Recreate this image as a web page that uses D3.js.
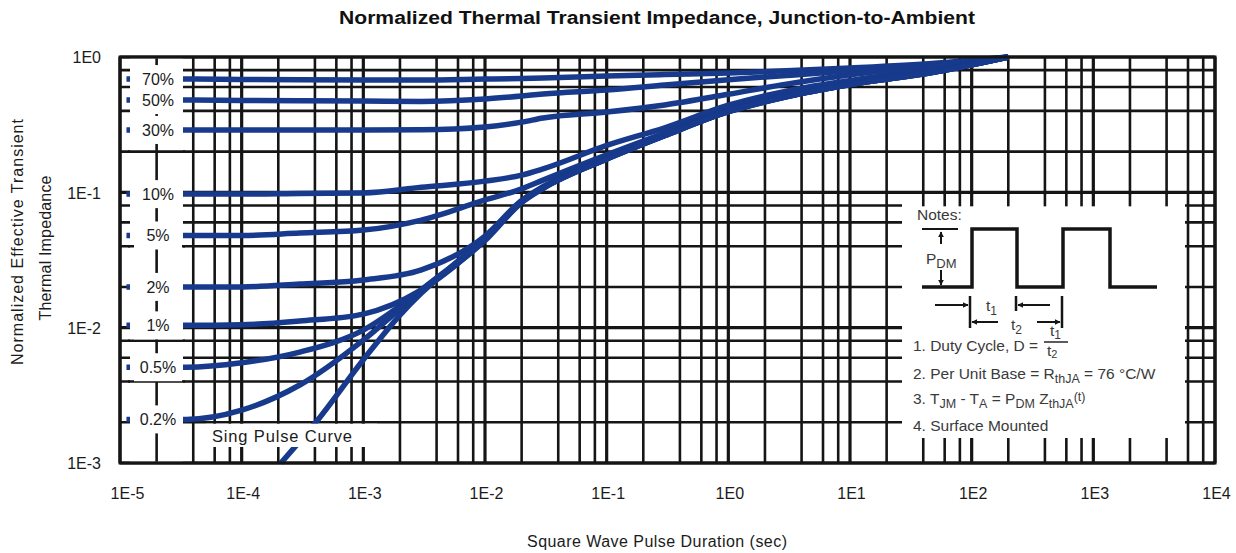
<!DOCTYPE html>
<html>
<head>
<meta charset="utf-8">
<script src="https://cdn.jsdelivr.net/npm/d3@7"></script>
<style>
  body { margin: 0; background: #fff; }
  text { font-family: "Liberation Sans", Arial, sans-serif; }
</style>
</head>
<body>
<svg id="chart" width="1236" height="553"></svg>
<script>
// duty-cycle curves, all sampled on the same pulse durations (sec)
const dutyLabels = ["70%", "50%", "30%", "10%", "5%", "2%", "1%", "0.5%", "0.2%"];
const pulseTimes = [1.13e-5, 3.5e-5, 1e-4, 3e-4, 1e-3, 3e-3, 1e-2, 2e-2, 3e-2, 0.1, 0.3, 1, 3, 10, 50, 200];
const z70 = [0.687, 0.687, 0.683, 0.678, 0.676, 0.676, 0.687, 0.693, 0.7, 0.724, 0.742, 0.762, 0.79, 0.83, 0.9, 1];
const z50 = [0.481, 0.481, 0.478, 0.475, 0.473, 0.47, 0.49, 0.515, 0.533, 0.57, 0.62, 0.68, 0.73, 0.79, 0.88, 1];
const z30 = [0.289, 0.289, 0.289, 0.289, 0.289, 0.29, 0.304, 0.33, 0.354, 0.392, 0.442, 0.53, 0.63, 0.74, 0.86, 1];
const z10 = [0.097, 0.097, 0.097, 0.098, 0.099, 0.109, 0.121, 0.134, 0.149, 0.222, 0.3, 0.44, 0.56, 0.67, 0.82, 1];
const z5 = [0.048, 0.048, 0.048, 0.05, 0.0526, 0.0624, 0.088, 0.106, 0.123, 0.189, 0.274, 0.41, 0.53, 0.65, 0.79, 1];
const z2 = [0.02, 0.02, 0.02, 0.021, 0.0225, 0.0267, 0.0475, 0.087, 0.11, 0.18, 0.268, 0.402, 0.517, 0.635, 0.78, 1];
const z1 = [0.0104, 0.0104, 0.0105, 0.0112, 0.0126, 0.019, 0.045, 0.085, 0.108, 0.177, 0.263, 0.396, 0.51, 0.627, 0.776, 1];
const z05 = [0.0051, 0.0051, 0.0055, 0.0066, 0.0096, 0.019, 0.044, 0.084, 0.107, 0.176, 0.262, 0.394, 0.508, 0.625, 0.775, 1];
const z02 = [0.0021, 0.0021, 0.00246, 0.00377, 0.0081, 0.019, 0.045, 0.085, 0.108, 0.177, 0.264, 0.397, 0.51, 0.627, 0.776, 1];

// single pulse curve
const singleTimes = [2.1e-4, 4.2e-4, 1e-3, 2e-3, 3e-3, 5e-3, 1e-2, 2e-2, 3e-2, 0.1, 0.3, 1, 3, 10, 50, 200];
const zSingle = [0.001, 0.00207, 0.0058, 0.0124, 0.018, 0.027, 0.046, 0.085, 0.107, 0.176, 0.262, 0.394, 0.508, 0.625, 0.775, 1];

const xDecades = [1e-5, 1e-4, 1e-3, 1e-2, 1e-1, 1, 10, 100, 1000, 10000];
const yDecades = [1e-3, 1e-2, 1e-1, 1];
const gridMultiples = [1, 2, 4, 6, 8];

const svg = d3.select("#chart");
const ink = "#151515";
const blue = "#173a8c";

const x = d3.scaleLog().domain([1e-5, 1e4]).range([120, 1215]);
const y = d3.scaleLog().domain([1e-3, 1]).range([463, 57]);

const mantissa = v => Math.round(v / Math.pow(10, Math.floor(Math.log10(v) + 1e-9)));
const xGrid = x.ticks().filter(v => gridMultiples.includes(mantissa(v)));
const yGrid = y.ticks().filter(v => gridMultiples.includes(mantissa(v)));
const gridWidth = d => (mantissa(d) === 1 ? 3.2 : 2.6);

// grid
const grid = svg.append("g");
grid.selectAll("line.v")
  .data(xGrid)
  .join("line")
  .attr("x1", d => x(d)).attr("x2", d => x(d))
  .attr("y1", 57).attr("y2", 463)
  .attr("stroke", ink)
  .attr("stroke-width", gridWidth);
grid.selectAll("line.h")
  .data(yGrid)
  .join("line")
  .attr("x1", 120).attr("x2", 1215)
  .attr("y1", d => y(d)).attr("y2", d => y(d))
  .attr("stroke", ink)
  .attr("stroke-width", gridWidth);

// curves
const line = d3.line()
  .x(d => x(d[0]))
  .y(d => y(d[1]))
  .curve(d3.curveMonotoneX);

const dutySeries = [z70, z50, z30, z10, z5, z2, z1, z05, z02].map((z, i) => ({
  label: dutyLabels[i],
  points: pulseTimes.map((t, j) => [t, z[j]])
}));
const singleSeries = singleTimes.map((t, j) => [t, zSingle[j]]);

svg.append("g")
  .selectAll("path")
  .data(dutySeries.map(d => d.points).concat([singleSeries]))
  .join("path")
  .attr("d", line)
  .attr("fill", "none")
  .attr("stroke", blue)
  .attr("stroke-width", 5.5);

// white label areas
const masks = svg.append("g");
const white = (x0, y0, x1, y1) => masks.append("rect")
  .attr("x", x0).attr("y", y0)
  .attr("width", x1 - x0).attr("height", y1 - y0)
  .attr("fill", "#fff");
const vStub = (v, y0, y1) => masks.append("line")
  .attr("x1", x(v)).attr("x2", x(v))
  .attr("y1", y0).attr("y2", y1)
  .attr("stroke", ink).attr("stroke-width", gridWidth(v));
const hStub = (v, x0, x1) => masks.append("line")
  .attr("x1", x0).attr("x2", x1)
  .attr("y1", y(v)).attr("y2", y(v))
  .attr("stroke", ink).attr("stroke-width", gridWidth(v));

// left strip: only a few grid lines run through it, boxes sit behind each label
const stripLines = [0.2, 0.04, 0.008, 0.004];
white(130, 58.6, 183, 461.4);
stripLines.forEach(v => hStub(v, 128, 185));
xGrid.filter(v => x(v) > 131 && x(v) < 182).forEach(v => vStub(v, 58.6, 461.4));
dutySeries.forEach(d => {
  const cy = y(d.points[1][1]);
  white(134, cy - 14, 182, cy + 14);
});

// single pulse label
white(206, y(0.002) + 1.5, 377, 447);

// notes panel
white(902, y(0.1) + 2, 1185, 438);
xGrid.filter(v => x(v) > 904 && x(v) < 1183).forEach(v => vStub(v, y(0.1), y(0.1) + 14));

// frame
svg.append("rect")
  .attr("x", 120).attr("y", 57)
  .attr("width", 1095).attr("height", 406)
  .attr("fill", "none")
  .attr("stroke", ink)
  .attr("stroke-width", 3);

// duty labels
svg.append("g")
  .selectAll("text")
  .data(dutySeries)
  .join("text")
  .attr("x", 158)
  .attr("y", d => y(d.points[1][1]))
  .attr("dy", "0.36em")
  .attr("text-anchor", "middle")
  .attr("font-size", 16)
  .attr("fill", "#1b1b1b")
  .text(d => d.label);

svg.append("text")
  .attr("x", 212).attr("y", 442)
  .attr("font-size", 16.5)
  .attr("fill", "#1b1b1b")
  .attr("textLength", 140)
  .text("Sing Pulse Curve");

// axes labels
const fmt = v => "1E" + Math.round(Math.log10(v));
const xAxis = svg.append("g")
  .attr("transform", "translate(0,493)")
  .call(d3.axisBottom(x).tickValues(xDecades).tickSize(0).tickPadding(0).tickFormat(fmt));
xAxis.select(".domain").remove();
xAxis.selectAll("text")
  .attr("font-size", 16)
  .attr("font-family", "Liberation Sans, Arial, sans-serif")
  .attr("fill", "#1b1b1b")
  .attr("dy", "0.36em")
  .attr("dx", (d, i) => (i === 0 ? 7 : 1));

const yAxis = svg.append("g")
  .attr("transform", "translate(101,0)")
  .call(d3.axisLeft(y).tickValues(yDecades).tickSize(0).tickPadding(0).tickFormat(fmt));
yAxis.select(".domain").remove();
yAxis.selectAll("text")
  .attr("font-size", 16)
  .attr("font-family", "Liberation Sans, Arial, sans-serif")
  .attr("fill", "#1b1b1b")
  .attr("dy", "0.36em");

// titles
svg.append("text")
  .attr("x", 657).attr("y", 24)
  .attr("text-anchor", "middle")
  .attr("font-size", 18)
  .attr("font-weight", "bold")
  .attr("fill", "#111")
  .attr("textLength", 636)
  .attr("lengthAdjust", "spacingAndGlyphs")
  .text("Normalized Thermal Transient Impedance, Junction-to-Ambient");

svg.append("text")
  .attr("transform", "translate(23,242) rotate(-90)")
  .attr("text-anchor", "middle")
  .attr("font-size", 16)
  .attr("fill", "#1b1b1b")
  .attr("textLength", 246)
  .text("Normalized Effective Transient");
svg.append("text")
  .attr("transform", "translate(51,248) rotate(-90)")
  .attr("text-anchor", "middle")
  .attr("font-size", 16)
  .attr("fill", "#1b1b1b")
  .attr("textLength", 145)
  .text("Thermal Impedance");

svg.append("text")
  .attr("x", 657).attr("y", 547)
  .attr("text-anchor", "middle")
  .attr("font-size", 16)
  .attr("fill", "#1b1b1b")
  .attr("textLength", 260)
  .text("Square Wave Pulse Duration (sec)");

// notes content
const notes = svg.append("g").attr("fill", "#3a3a3a").attr("font-size", 15.5);
const defs = svg.append("defs");
defs.append("marker")
  .attr("id", "arr")
  .attr("viewBox", "0 0 10 10")
  .attr("refX", 9).attr("refY", 5)
  .attr("markerWidth", 6).attr("markerHeight", 6)
  .attr("markerUnits", "userSpaceOnUse")
  .attr("orient", "auto")
  .append("path")
  .attr("d", "M0,0L10,5L0,10z")
  .attr("fill", ink);

notes.append("text").attr("x", 917).attr("y", 220).text("Notes:");

notes.append("path")
  .attr("d", "M922,287H972V229H1017V287H1063V229H1110V287H1157")
  .attr("fill", "none").attr("stroke", ink).attr("stroke-width", 3.5);

const seg = (x1, y1, x2, y2, arrow, w) => notes.append("line")
  .attr("x1", x1).attr("y1", y1).attr("x2", x2).attr("y2", y2)
  .attr("stroke", ink).attr("stroke-width", w || 2)
  .attr("marker-end", arrow ? "url(#arr)" : null);

seg(922, 229, 958, 229);
seg(941, 244, 941, 232, true);
seg(941, 270, 941, 285, true);
seg(935, 305, 968, 305, true);
seg(970, 296, 970, 328, false, 2.5);
seg(998, 322, 972, 322, true);
seg(1016, 296, 1016, 311, false, 2.5);
seg(1050, 305, 1018, 305, true);
seg(1037, 322, 1060, 322, true);
seg(1062, 296, 1062, 328, false, 2.5);
seg(1044, 342, 1068, 342, false, 1.4);

const sub = (t, s, px, py, size, drop) => {
  const el = notes.append("text").attr("x", px).attr("y", py);
  el.append("tspan").text(t);
  el.append("tspan").attr("font-size", size || 12).attr("dy", drop || 4).text(s);
  return el;
};
sub("P", "DM", 926, 264, 13);
sub("t", "1", 986, 311);
sub("t", "2", 1011, 330);
sub("t", "1", 1050, 336, 12, 3);
sub("t", "2", 1047, 356, 11, 2);

notes.append("text").attr("x", 913).attr("y", 351)
  .attr("textLength", 125)
  .text("1. Duty Cycle, D =");

const l2 = notes.append("text").attr("x", 913).attr("y", 379);
l2.append("tspan").text("2. Per Unit Base = R");
l2.append("tspan").attr("font-size", 12.5).attr("dy", 4).text("thJA");
l2.append("tspan").attr("dy", -4).text(" = 76 \u00B0C/W");

const l3 = notes.append("text").attr("x", 913).attr("y", 404);
l3.append("tspan").text("3. T");
l3.append("tspan").attr("font-size", 12.5).attr("dy", 4).text("JM");
l3.append("tspan").attr("dy", -4).text(" - T");
l3.append("tspan").attr("font-size", 12.5).attr("dy", 4).text("A");
l3.append("tspan").attr("dy", -4).text(" = P");
l3.append("tspan").attr("font-size", 12.5).attr("dy", 4).text("DM");
l3.append("tspan").attr("dy", -4).text(" Z");
l3.append("tspan").attr("font-size", 12.5).attr("dy", 4).text("thJA");
l3.append("tspan").attr("font-size", 12.5).attr("dy", -7).text("(t)");

notes.append("text").attr("x", 913).attr("y", 431).text("4. Surface Mounted");
</script>
</body>
</html>
